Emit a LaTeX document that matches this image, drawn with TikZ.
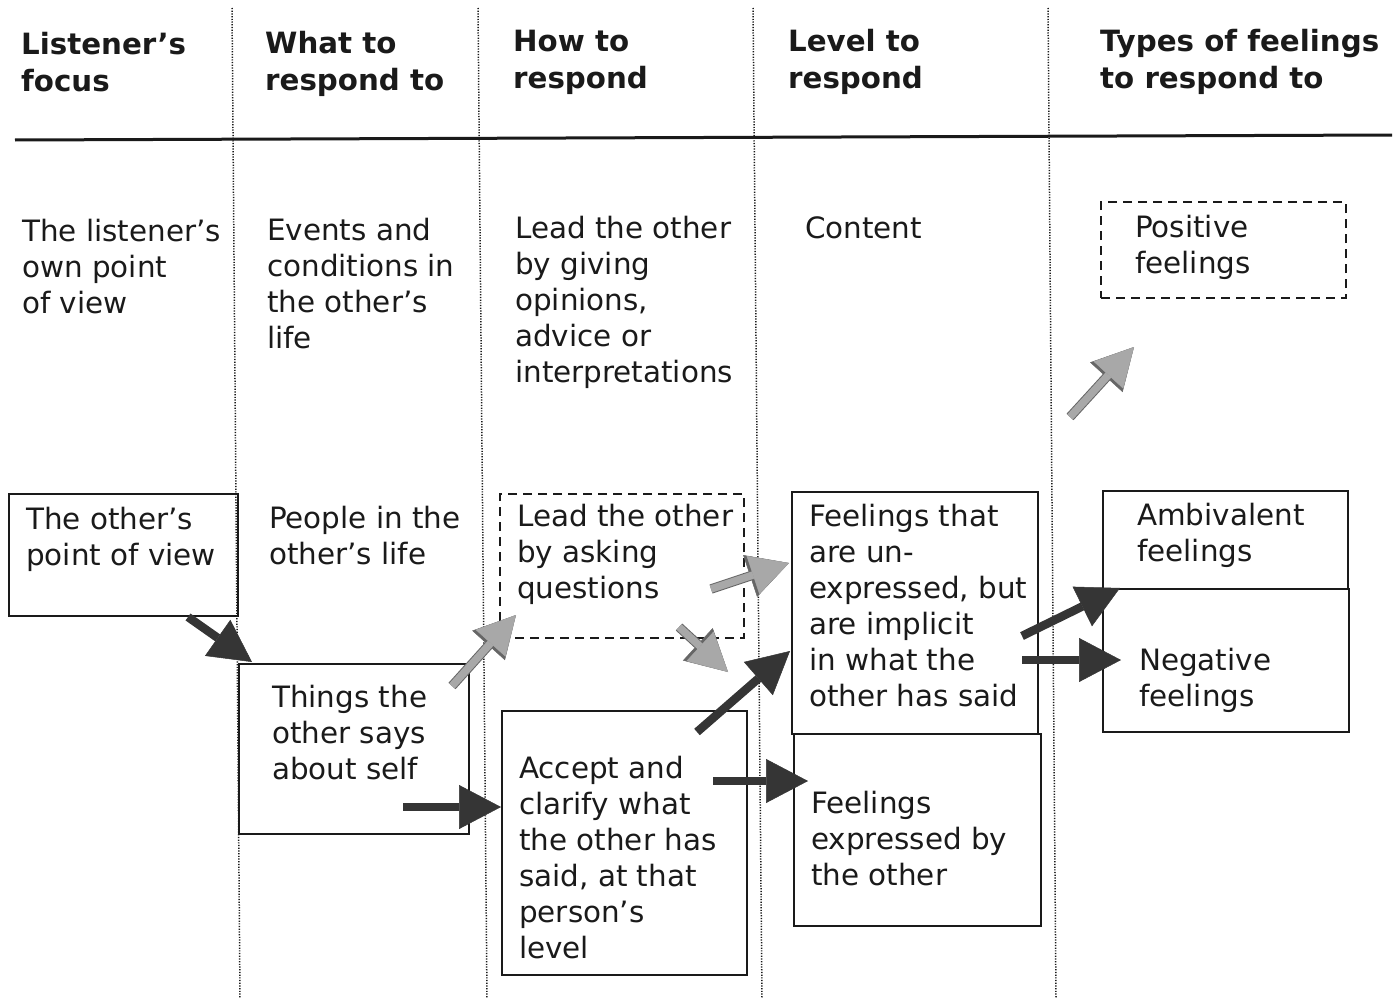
\documentclass[tikz,border=0pt]{standalone}
\usepackage{fontspec}
\setmainfont{DejaVu Sans}
\usetikzlibrary{arrows.meta}

\definecolor{ink}{HTML}{1A1A1A}
\definecolor{darrow}{HTML}{353535}
\definecolor{larrow}{HTML}{A8A8A8}
\newcommand{\bodyfont}{\fontsize{29.4}{36}\selectfont}
\newcommand{\headfont}{\fontsize{29.3}{37}\selectfont\bfseries}
\newcommand{\firststrut}{\rule{0pt}{23pt}}

\tikzset{
  txt/.style={anchor=north west, inner sep=0pt, align=left, font=\bodyfont,
              text=ink, execute at begin node=\firststrut},
  head/.style={txt, font=\headfont},
  box/.style={draw=ink, line width=1.8pt, anchor=north west, inner sep=0pt},
  dbox/.style={box, line width=2pt, dash pattern=on 9pt off 6pt},
  colline/.style={draw=ink, line width=1.5pt, dash pattern=on 1.2pt off 1.5pt},
  rule/.style={draw=ink, line width=3pt},
  darr/.style={draw=darrow, line width=8.5pt,
               -{Triangle[length=42pt,width=44pt,line width=0.5pt]}},
  larr/.style={draw=larrow, line width=7.5pt,
               -{Triangle[length=38pt,width=40pt,line width=0.5pt]},
               preaction={draw=black!60, line width=9.5pt,
               -{Triangle[length=41pt,width=44pt,line width=0.5pt]}}}
}

\begin{document}
\begin{tikzpicture}[x=1pt,y=-1pt]
\useasboundingbox (0,0) rectangle (1395,998);

% column separators and header rule
\draw[colline] (232,8) -- (240,998);
\draw[colline] (478,8) -- (487,998);
\draw[colline] (753,8) -- (762,998);
\draw[colline] (1048,8) -- (1056,998);
\draw[rule] (15,140) -- (1392,135);

% headers
\node[head] (h1) at (21,32)  {Listener’s\\focus};
\node[head] (h2) at (265,31) {What to\\respond to};
\node[head] (h3) at (513,30) {How to\\respond};
\node[head] (h4) at (788,29) {Level to\\respond};
\node[head] (h5) at (1100,29) {Types of feelings\\to respond to};

% boxes
\node[box, minimum width=229pt, minimum height=122pt] (b1) at (8,493) {};
\node[box, minimum width=230pt, minimum height=170pt] (b2) at (238,663) {};
\node[dbox, minimum width=244pt, minimum height=144pt] (b3) at (499,493) {};
\node[box, minimum width=245pt, minimum height=264pt] (b4) at (501,710) {};
\node[box, minimum width=246pt, minimum height=242pt] (b5) at (791,491) {};
\node[box, minimum width=247pt, minimum height=192pt] (b6) at (793,733) {};
\node[dbox, minimum width=245pt, minimum height=96pt] (b7) at (1100,201) {};
\node[box, minimum width=245pt, minimum height=98pt] (b8) at (1102,490) {};
\node[box, minimum width=246pt, minimum height=143pt] (b9) at (1102,588) {};

% texts
\node[txt] (t11) at (22,219)  {The listener’s\\own point\\of view};
\node[txt] (t12) at (26,507)  {The other’s\\point of view};
\node[txt] (t21) at (267,218) {Events and\\conditions in\\the other’s\\life};
\node[txt] (t22) at (269,506) {People in the\\other’s life};
\node[txt] (t23) at (272,685) {Things the\\other says\\about self};
\node[txt] (t31) at (515,216) {Lead the other\\by giving\\opinions,\\advice or\\interpretations};
\node[txt] (t32) at (517,504) {Lead the other\\by asking\\questions};
\node[txt] (t33) at (519,756) {Accept and\\clarify what\\the other has\\said, at that\\person’s\\level};
\node[txt] (t41) at (805,215) {Content};
\node[txt] (t42) at (809,504) {Feelings that\\are un-\\expressed, but\\are implicit\\in what the\\other has said};
\node[txt] (t43) at (811,791) {Feelings\\expressed by\\the other};
\node[txt] (t51) at (1135,215) {Positive\\feelings};
\node[txt] (t52) at (1137,503) {Ambivalent\\feelings};
\node[txt] (t53) at (1139,648) {Negative\\feelings};

% arrow end points
\coordinate (a1s) at (188,617);  \coordinate (a1e) at (252,662);
\coordinate (a2s) at (403,807);  \coordinate (a2e) at (501,807);
\coordinate (a3s) at (452,686);  \coordinate (a3e) at (516,615);
\coordinate (a4s) at (711,589);  \coordinate (a4e) at (789,563);
\coordinate (a5s) at (679,627);  \coordinate (a5e) at (728,672);
\coordinate (a6s) at (697,732);  \coordinate (a6e) at (790,651);
\coordinate (a7s) at (713,781);  \coordinate (a7e) at (808,781);
\coordinate (a8s) at (1022,636); \coordinate (a8e) at (1120,588);
\coordinate (a9s) at (1022,660); \coordinate (a9e) at (1121,660);
\coordinate (a10s) at (1070,417); \coordinate (a10e) at (1134,347);

% block arrows
\draw[darr] (a1s) -- (a1e);
\draw[darr] (a2s) -- (a2e);
\draw[larr] (a3s) -- (a3e);
\draw[larr] (a4s) -- (a4e);
\draw[larr] (a5s) -- (a5e);
\draw[darr] (a6s) -- (a6e);
\draw[darr] (a7s) -- (a7e);
\draw[darr] (a8s) -- (a8e);
\draw[darr] (a9s) -- (a9e);
\draw[larr] (a10s) -- (a10e);
\end{tikzpicture}
\end{document}
